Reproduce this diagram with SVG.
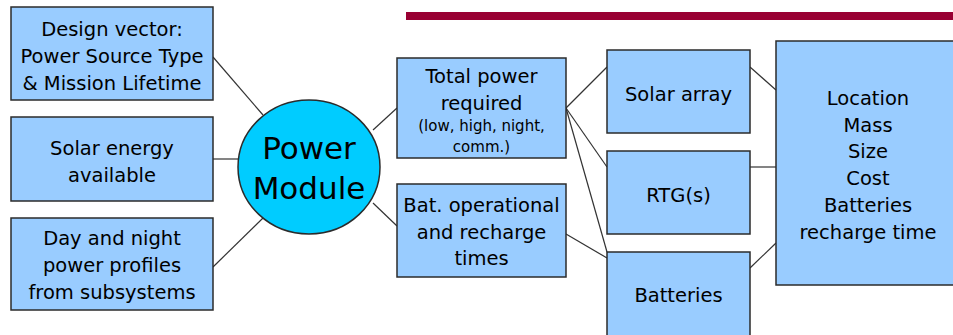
<svg xmlns="http://www.w3.org/2000/svg" width="953" height="335" viewBox="0 0 953 335">
<style>
.box{fill:#99ccff;stroke:#2b2b2b;stroke-width:1.5}
.circ{fill:#00ccff;stroke:#2b2b2b;stroke-width:1.5}
.t{font-family:"DejaVu Sans",Verdana,sans-serif;font-size:19.5px;fill:#000;text-anchor:middle}
.s{font-size:15px}
.big{font-size:31px}
.c line{stroke:#333;stroke-width:1.2}
</style>
<rect width="953" height="335" fill="#fff"/>
<rect x="406" y="12" width="547" height="8" fill="#990033"/>
<g class="c" id="connectors">
<line x1="213" y1="57" x2="263" y2="115"/>
<line x1="213" y1="159" x2="238" y2="159"/>
<line x1="213" y1="267" x2="263" y2="218"/>
<line x1="373" y1="130" x2="397" y2="108"/>
<line x1="373" y1="203" x2="397" y2="226"/>
<line x1="566" y1="108" x2="607" y2="67"/>
<line x1="566" y1="108" x2="607" y2="167"/>
<line x1="566" y1="108" x2="607" y2="252"/>
<line x1="566" y1="234" x2="607" y2="258"/>
<line x1="750" y1="67" x2="776" y2="90"/>
<line x1="750" y1="167" x2="776" y2="167"/>
<line x1="750" y1="268" x2="776" y2="243"/>
</g>
<g id="design-vector">
<rect class="box" x="11" y="7" width="202" height="93"/>
<text class="t" x="112" y="36">Design vector:</text>
<text class="t" x="112" y="63">Power Source Type</text>
<text class="t" x="112" y="90">&amp; Mission Lifetime</text>
</g>
<g id="solar-energy">
<rect class="box" x="11" y="117" width="202" height="84"/>
<text class="t" x="112" y="155">Solar energy</text>
<text class="t" x="112" y="182">available</text>
</g>
<g id="day-night">
<rect class="box" x="11" y="218" width="202" height="92"/>
<text class="t" x="112" y="245">Day and night</text>
<text class="t" x="112" y="272">power profiles</text>
<text class="t" x="112" y="299">from subsystems</text>
</g>
<g id="power-module">
<ellipse class="circ" cx="309" cy="167" rx="71" ry="67"/>
<text class="t big" x="309" y="159">Power</text>
<text class="t big" x="309" y="199">Module</text>
</g>
<g id="total-power">
<rect class="box" x="397" y="58" width="169" height="100"/>
<text class="t" x="481.5" y="83">Total power</text>
<text class="t" x="481.5" y="110">required</text>
<text class="t s" x="481.5" y="131">(low, high, night,</text>
<text class="t s" x="481.5" y="152">comm.)</text>
</g>
<g id="bat-operational">
<rect class="box" x="397" y="184" width="169" height="93"/>
<text class="t" x="481.5" y="212">Bat. operational</text>
<text class="t" x="481.5" y="239">and recharge</text>
<text class="t" x="481.5" y="265">times</text>
</g>
<g id="solar-array">
<rect class="box" x="607" y="50" width="143" height="83"/>
<text class="t" x="678.5" y="101">Solar array</text>
</g>
<g id="rtg">
<rect class="box" x="607" y="151" width="143" height="83"/>
<text class="t" x="678.5" y="202">RTG(s)</text>
</g>
<g id="batteries">
<rect class="box" x="607" y="252" width="143" height="85"/>
<text class="t" x="678.5" y="302">Batteries</text>
</g>
<g id="outputs">
<rect class="box" x="776" y="41" width="190" height="244"/>
<text class="t" x="868" y="105">Location</text>
<text class="t" x="868" y="132">Mass</text>
<text class="t" x="868" y="158">Size</text>
<text class="t" x="868" y="185">Cost</text>
<text class="t" x="868" y="212">Batteries</text>
<text class="t" x="868" y="239">recharge time</text>
</g>
</svg>
